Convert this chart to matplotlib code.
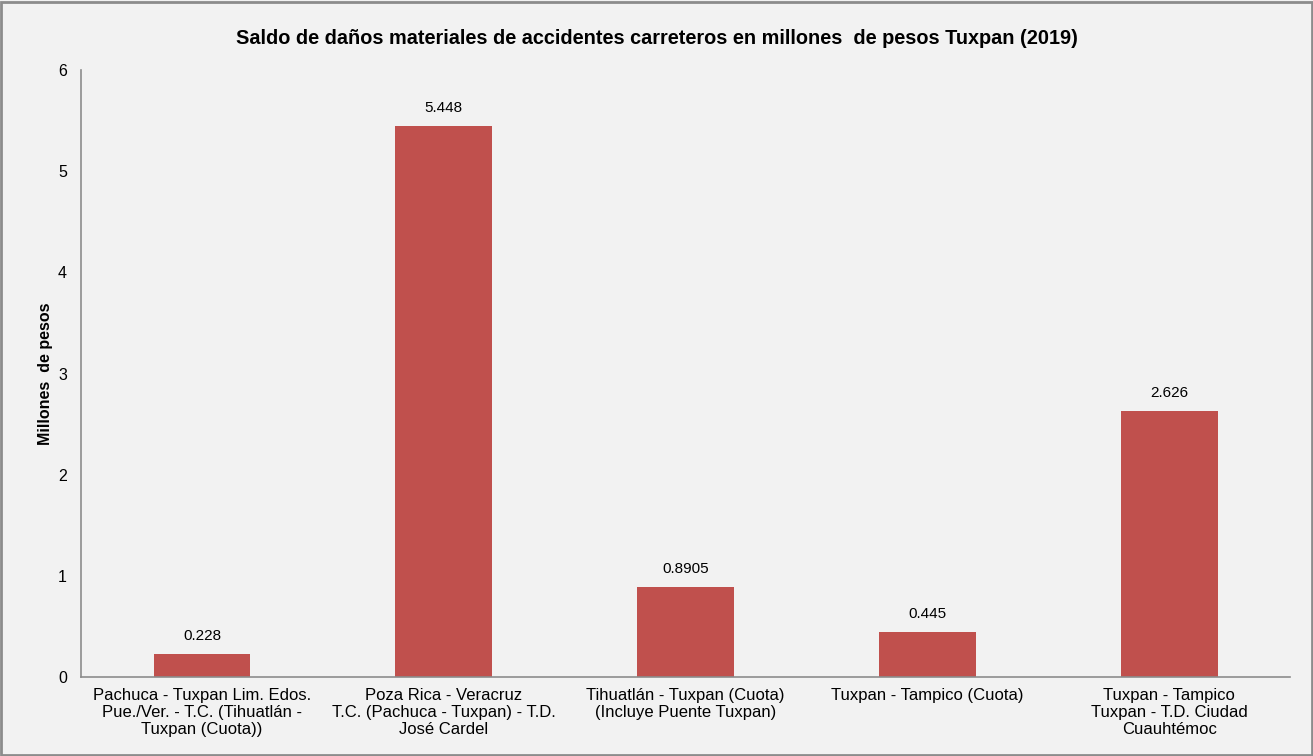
import matplotlib
matplotlib.use("Agg")
import matplotlib.pyplot as plt
from matplotlib.patches import Rectangle

categories = [
    "Pachuca - Tuxpan Lim. Edos.\nPue./Ver. - T.C. (Tihuatlán -\nTuxpan (Cuota))",
    "Poza Rica - Veracruz\nT.C. (Pachuca - Tuxpan) - T.D.\nJosé Cardel",
    "Tihuatlán - Tuxpan (Cuota)\n(Incluye Puente Tuxpan)",
    "Tuxpan - Tampico (Cuota)",
    "Tuxpan - Tampico\nTuxpan - T.D. Ciudad\nCuauhtémoc",
]
values = [0.228, 5.448, 0.8905, 0.445, 2.626]
value_labels = ["0.228", "5.448", "0.8905", "0.445", "2.626"]
yticks = [0, 1, 2, 3, 4, 5, 6]

plt.rcParams['font.family'] = ['Liberation Sans', 'DejaVu Sans']
bg = "#F2F2F2"
fig = plt.figure(figsize=(13.13, 7.56), dpi=100, facecolor=bg)
ax = fig.add_axes([0.0617, 0.1045, 0.921, 0.8029], facecolor=bg)

x = list(range(len(categories)))
ax.bar(x, values, width=0.4, color="#C0504D", zorder=2)
for xi, v, lab in zip(x, values, value_labels):
    ax.annotate(lab, (xi, v), xytext=(0, 8), textcoords="offset points",
                ha="center", va="bottom", fontsize=11, color="#000000")

ax.set_xlim(-0.5, len(categories) - 0.5)
ax.set_ylim(0, 6)
ax.set_yticks(yticks)
ax.set_yticklabels([str(t) for t in yticks], fontsize=11.5)
ax.set_xticks(x)
ax.set_xticklabels(categories, fontsize=12, linespacing=1.17)
ax.tick_params(axis="y", length=0, pad=10)
ax.tick_params(axis="x", length=0, pad=8)
for s in ["top", "right"]:
    ax.spines[s].set_visible(False)
for s in ["left", "bottom"]:
    ax.spines[s].set_color("#8C8C8C")
    ax.spines[s].set_linewidth(1.2)

ax.set_ylabel("Millones  de pesos", fontsize=11.5, fontweight="bold", labelpad=4)
fig.suptitle("Saldo de daños materiales de accidentes carreteros en millones  de pesos Tuxpan (2019)",
             fontsize=14.3, fontweight="bold", y=0.962)

fig.patches.append(Rectangle((0.001, 0.001), 0.998, 0.996, transform=fig.transFigure,
                             fill=False, edgecolor="#8C8C8C", linewidth=2))

fig.savefig("out.png", dpi=100, facecolor=bg)
